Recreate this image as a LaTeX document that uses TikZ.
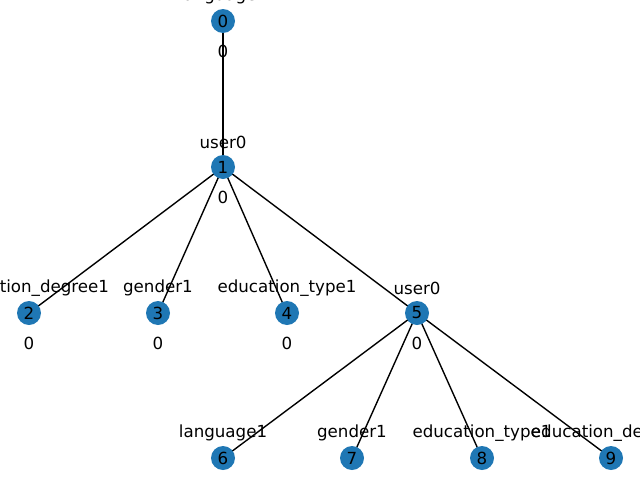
\documentclass[tikz,border=0pt]{standalone}
\usepackage{fontspec}
\setmainfont{DejaVu Sans}
\usetikzlibrary{calc}
\definecolor{nodeblue}{HTML}{1F77B4}
\begin{document}
\begin{tikzpicture}[x=0.72pt,y=-0.72pt,
  vert/.style={circle,fill=nodeblue,minimum size=24*0.72pt,inner sep=0pt,font=\fontsize{12}{14}\selectfont},
  tag/.style={inner sep=0pt,font=\fontsize{12}{14}\selectfont},
  link/.style={line width=1pt,black}]
\useasboundingbox (0,0) rectangle (640,480);
\clip (0,0) rectangle (640,480);
% node positions
\coordinate (p0) at (223,21);
\coordinate (p1) at (223,167);
\coordinate (p2) at (29,313);
\coordinate (p3) at (158,313);
\coordinate (p4) at (287,313);
\coordinate (p5) at (417,313);
\coordinate (p6) at (223,458);
\coordinate (p7) at (352,458);
\coordinate (p8) at (482,458);
\coordinate (p9) at (611,458);
% edges
\draw[link] (p0) -- (p1);
\foreach \t in {2,3,4,5} \draw[link] (p1) -- (p\t);
\foreach \t in {6,7,8,9} \draw[link] (p5) -- (p\t);
% nodes
\foreach \i in {0,...,9} \node[vert] (n\i) at (p\i) {\i};
% labels above
\node[tag] (t0) at ($(p0)+(0,-25)$) {language1};
\node[tag] (t1) at ($(p1)+(0,-25)$) {user0};
\node[tag] (t2) at ($(p2)+(0,-25)$) {education\_degree1};
\node[tag] (t3) at ($(p3)+(0,-25)$) {gender1};
\node[tag] (t4) at ($(p4)+(0,-25)$) {education\_type1};
\node[tag] (t5) at ($(p5)+(0,-25)$) {user0};
\node[tag] (t6) at ($(p6)+(0,-25)$) {language1};
\node[tag] (t7) at ($(p7)+(0,-25)$) {gender1};
\node[tag] (t8) at ($(p8)+(0,-25)$) {education\_type1};
\node[tag] (t9) at ($(p9)+(0,-25)$) {education\_degree1};
% labels below
\foreach \i in {0,...,5} \node[tag] (b\i) at ($(p\i)+(0,30)$) {0};
\end{tikzpicture}
\end{document}
